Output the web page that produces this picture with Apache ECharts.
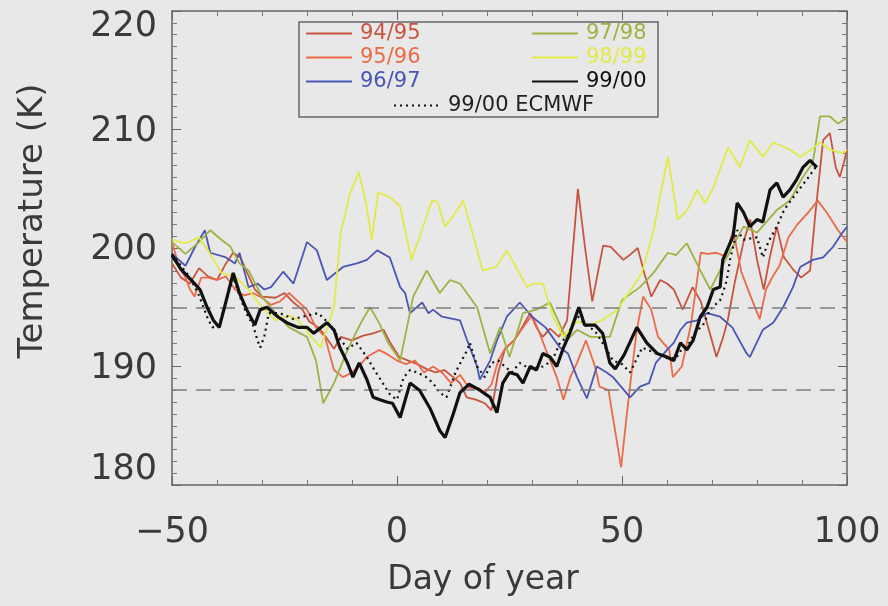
<!DOCTYPE html>
<html>
<head>
<meta charset="utf-8">
<script src="https://cdn.jsdelivr.net/npm/echarts@6/dist/echarts.min.js"></script>
<style>
html,body{margin:0;padding:0;background:#e8e8e8;}
#chart{width:888px;height:606px;}
</style>
</head>
<body>
<div id="chart"></div>
<script>
// ---- Data (day of year, temperature K) ----
const xTicks = [-50, 0, 50, 100];
const yTicks = [180, 190, 200, 210, 220];
const thresholds = [195, 188];

const days9495 = [-50,-48,-46,-44,-42,-40,-38,-36.4,-34.8,-33.3,-31.6,-30,-27,-25,-23,-21,-19.5,-17.5,-16,-14,-12.5,-10,-7.5,-5.3,-3,-1.5,0.5,2.5,4.5,6.5,8.5,10.5,12.5,14,15.5,17.5,19.5,21,22.5,24,26,27.5,29.6,31,32.4,34,36,37.8,40.2,41.8,43.4,45.8,47.5,49,50.3,52,53.5,55,56.5,58.5,60,61.5,63.5,65.7,67.5,69,71,72.5,73.5,75,77,78.5,80,81.5,83,84.4,86,88,89.8,91.8,93,94.7,96.2,97.5,98.4,99.3,100];
const temp9495 = [198.7,197.5,197,198.3,197.6,197.3,198.7,199.6,199.2,197.9,196.5,195.9,195.8,196.2,195.4,194.8,193.8,193.3,192.6,191.5,192.5,192.2,192.6,192.8,193.1,192,190.8,190.5,190.2,189.8,189.5,189.7,189.1,188.6,187.4,187.2,186.9,186.3,189.5,191.5,192.2,193.1,194.5,193.3,192.5,193.2,192.5,193.9,205,200,195.5,200.2,200.1,199.5,199,199.5,200,197.8,195.9,197.3,197,196.5,194.8,196.7,195.5,193.5,190.8,192.5,193.9,197,200.5,202.4,199,196.5,199.5,201.8,199.2,198.2,197.5,198.1,203,209.1,209.7,206.8,206,207.2,208.3];

const days9596 = [-50,-48.5,-47,-46,-45,-43.5,-42,-40,-38,-36,-34,-32,-30,-28,-26,-24,-22,-20,-18,-16,-14,-12,-10,-8,-6.7,-4,-2,0,2,4,6,8,10,12,14,16,18,19.5,21,22.5,24,26,28,30,31.5,33,35.5,37,38.5,40,42,44,45,47,48.2,49.8,51,52.2,53.3,54.7,56.5,58,60.5,61.3,63.3,65.3,66.7,67.5,69,71,73,74.7,76.5,78.5,80.6,82,83.5,85,87,89,91.4,93.5,95.5,98,100];
const temp9596 = [200.5,198.5,197.5,196.5,195.9,197.5,197.5,197.3,197.6,196.5,196,196.2,195.8,195.2,195.5,196.2,195.5,194.8,193.3,192.5,189.7,189.1,189.5,190.2,190.8,191.4,191,190.5,190.2,190.5,189.5,190,189.5,188.6,189.3,188.2,188.2,187.8,188.5,190.5,191.5,192.2,193.3,194.3,193,191.5,189.1,187.2,189.1,190.3,192.2,190,188.3,188,185.2,181.5,185.7,189.7,193.1,195.9,194.8,192.5,191.4,189.1,190,193.5,197.3,199.6,199.5,199.6,199.3,201.5,198,196,194,196.5,197.6,198.5,200.9,202,203,204,203,201.5,200.5];

const days9697 = [-50,-47,-45,-42.7,-41.5,-38,-36,-35,-33,-31,-29.5,-28,-25.3,-23,-20,-17.8,-15.6,-12,-8.9,-6.7,-4.4,-1.6,0.7,1.8,2.9,5.6,7,8,10,14,15.6,17.8,18.4,20.7,22.2,24.4,27.3,30,33,36.2,38,40,42.2,44.4,46.6,48,51.8,54,56,57.5,60,61.5,63,64.4,66.7,68.9,71.8,74.5,77.7,78.4,81.3,83.6,85.8,88,89.6,92.4,94.7,96.9,99,100];
const temp9697 = [199.5,198.5,200,201.5,199.6,199.2,198.7,199.6,196.7,197,196.5,196.7,198,197,200.5,199.8,197.3,198.4,198.7,199,199.8,199.2,196.7,196.2,194.5,195.4,194.5,194.8,194.2,193.9,192.2,190,188.9,190.5,192.2,194.2,195.4,194.2,193.3,191.6,191.1,189.1,187.3,190,189.5,189.1,187.4,188.3,188.6,190.3,191.4,192,193.1,193.7,193.9,194.5,194.2,193.3,191.1,190.8,193.1,193.7,195,196.7,198.4,199,199.2,200.1,201.3,201.8];

const days9798 = [-50,-47,-44,-41.5,-39,-37,-35,-33,-30,-27,-24,-20,-18,-16.4,-14,-11,-8,-6,-4,-2,0.7,3.6,6.6,9.5,11.8,14,17.8,20.7,22.9,25,28,31,34,37.8,40,43,47.3,50,54,57,60.2,62,64.4,67,69.6,73,77,80,84.4,87.3,90.2,92.4,94,96.2,98,100];
const temp9798 = [200.5,199.5,200.5,201.5,200.7,200.1,198.7,198.1,195.9,194.5,193.3,192.5,190.5,186.9,188.6,191.4,193.7,195,193.7,192,190.5,195.9,198.1,196.2,197.3,197,195,191.1,193.3,190.8,194.5,194.8,195.4,192.2,193.1,192.5,192.5,195.6,196.7,197.9,199.6,199.4,200.4,198.4,196.5,199,201.8,201.3,203.2,204,206,207.2,211.1,211.1,210.5,211];

const days9899 = [-50,-47,-44,-42,-39,-36,-33,-30,-27,-24,-22,-19,-17,-14,-12.5,-10.5,-8.5,-7,-5.6,-4.2,-1.6,0.7,3.2,5.5,7.8,9,10.7,13,14.7,17,19,22,24.4,27,28.9,30.2,32.4,34.7,36.9,40,43,46,49,52,54.4,57,60.2,62.4,64.5,66.7,68.5,70.3,73.6,76.2,78.4,81.3,83.6,87.3,89.6,92,94,96.2,99,100];
const temp9899 = [200.7,200.4,200.9,199.8,197.9,197.6,196.5,195,193.9,194.3,193.9,192.5,191.6,195,201.3,204.5,206.4,204,200.7,204.7,204.3,203.5,199,201.5,204,203.9,201.8,203,204,201,198.1,198.4,199.8,198,196.7,197,197,194.2,192.5,193.8,193.5,194,194.8,196.5,197.9,201.5,207.7,202.4,203.2,204.9,203.8,205.1,208.5,206.8,209.1,207.7,208.9,208.3,207.7,208.3,208.9,208.3,208,208.3];

const days9900 = [-50,-48,-46.5,-45,-43.8,-42.2,-40.8,-39.5,-38,-36.4,-35,-33.4,-31.6,-30.4,-28.9,-26.5,-24.5,-22,-20,-18.5,-15.6,-14,-12.7,-11,-9.8,-8.4,-6.7,-5.3,-3.8,-2.3,-1,0.7,2.9,5,7.3,9.5,10.7,12.5,14,16,18.4,20.7,22.2,23.5,25,26.7,28,29.6,31,32.4,34,35.5,37,38.5,40.4,41.7,44,45.7,47.3,48.5,50.5,53.3,55.5,57.8,60,61.5,63,64.4,65.8,67.4,68.9,70.3,71.8,72.4,74.7,75.6,77,78.4,80,81.3,82.9,84.4,85.8,87.3,88.7,90.2,91.8,93.3];
const temp9900 = [199.4,198.2,197.6,197,196.5,195,193.9,193.3,195.5,197.9,196.2,194.8,193.5,194.8,195,194.2,193.7,193.3,193.3,192.8,193.7,193.1,191.6,190.3,189.1,190.3,188.9,187.4,187.2,187,186.9,185.7,188.6,188,186.5,184.6,184,186,187.8,188.5,188,187.4,186.1,188.6,189.5,189.3,188.6,190,189.7,191.1,190.8,190,191.6,192.9,195,193.5,193.5,192.8,190.3,189.8,191,193.3,192,191.1,190.8,190.5,192,191.4,192.2,194.2,195,196.5,196.7,199,201,203.8,203,201.8,202.4,202.2,204.9,205.5,204.3,204.9,205.7,206.8,207.4,206.8];

const daysEcmwf = [-50,-48,-46,-44,-42,-41,-39.5,-38,-36.4,-35,-33.5,-32,-31,-30.4,-29.5,-28.5,-26,-23,-20,-17.5,-15.6,-13,-11,-9,-6.7,-5,-3,-1.5,0,1.5,2.9,4.5,6.5,8,9.5,11,13,15.6,16.2,17.8,19.5,21,22.5,24,25.5,27.3,29.5,32.4,34.5,36.2,37.8,40,42,44,46,48,50,51.8,54.5,57,60,62,63.5,65,66,68,69.6,71.8,72.4,73.3,74,75.6,77,80,81.3,82.5,84.4,86,87.5,89.5,91.5,93];
const tempEcmwf = [199.5,198.5,197.5,196,194,193.3,193.5,195.5,197.5,196,194.5,193.5,192.2,191.6,192.5,194.5,194.5,194,194.3,194.5,193.8,192.5,191.5,192,190.8,189.7,188.5,187.6,187.2,189.1,189.7,189.5,189.1,188.6,187.8,187.4,189.5,191.4,192,190,189.1,190.3,190.5,190,189.5,190.3,189.8,190,190.5,192,192.5,194.3,193.5,193,191.8,190.5,190.2,189.5,191.6,191.2,190.7,190.7,191.6,192,192.8,193.5,194.8,195.6,196.2,197.3,199,201.5,200.7,200.9,199.2,200.5,201.8,203.2,204,205,206,206.8];

const seriesNames = ['94/95','95/96','96/97','97/98','98/99','99/00','99/00 ECMWF'];
const seriesColors = ['#c85440','#ec6a48','#4a56b4','#9cb444','#e2ea48','#111111','#111111'];

function zip(d, t){ return d.map((v,i)=>[v, t[i]]); }
const allData = [
  zip(days9495, temp9495), zip(days9596, temp9596), zip(days9697, temp9697),
  zip(days9798, temp9798), zip(days9899, temp9899), zip(days9900, temp9900),
  zip(daysEcmwf, tempEcmwf)
];

const FONT = 'DejaVu Sans';
const TXT = '#3a3a3a';
const chart = echarts.init(document.getElementById('chart'), null, {renderer:'canvas'});

const series = allData.map((d, i) => {
  const isBlack = i === 5, isDot = i === 6;
  return {
    name: seriesNames[i], type: 'line', data: d, symbol: 'none', smooth: false,
    animation: false, z: isBlack ? 5 : (isDot ? 4 : 3),
    lineStyle: { color: seriesColors[i], width: isBlack ? 3.2 : (isDot ? 2.2 : 1.8), type: isDot ? [2, 4] : 'solid' },
    itemStyle: { color: seriesColors[i] }
  };
});
series[0].markLine = {
  silent: true, symbol: ['none','none'], animation: false,
  label: { show: false },
  lineStyle: { color: '#7d7d7d', width: 1.6, type: [15, 9] },
  data: thresholds.map(v => ({ yAxis: v }))
};

function legendItems(names){
  return names.map(n => ({ name: n, textStyle: { color: seriesColors[seriesNames.indexOf(n)] } }));
}
const legendCommon = {
  orient: 'vertical', itemWidth: 46, itemHeight: 14, itemGap: 3, padding: 0,
  selectedMode: false,
  itemStyle: { color: 'rgba(0,0,0,0)', borderColor: 'rgba(0,0,0,0)', borderWidth: 0, opacity: 0 },
  textStyle: { fontFamily: FONT, fontSize: 21, padding: [0,0,0,3] }
};

const labelRich = {
  t: { fontFamily: FONT, fontSize: 35, color: TXT, padding: [32,0,0,0] },
  m: { fontFamily: FONT, fontSize: 35, color: TXT, padding: [4,0,0,0] },
  b: { fontFamily: FONT, fontSize: 35, color: TXT, padding: [0,0,30,0] }
};

const option = {
  backgroundColor: '#e8e8e8',
  animation: false,
  grid: { left: 172, right: 41, top: 11, bottom: 121, outerBoundsMode: 'none', containLabel: false },
  legend: [
    Object.assign({}, legendCommon, { left: 305, top: 23, data: legendItems(['94/95','95/96','96/97']) }),
    Object.assign({}, legendCommon, { left: 531, top: 23, data: legendItems(['97/98','98/99','99/00']) }),
    Object.assign({}, legendCommon, { left: 393, top: 95, data: [{ name: '99/00 ECMWF', textStyle: { color: '#222' } }] })
  ],
  xAxis: [
    {
      type: 'value', min: -50, max: 100, interval: 50, position: 'bottom',
      axisLine: { show: true, onZero: false, lineStyle: { color: '#666', width: 1.5 } },
      axisTick: { show: true, inside: true, length: 9, lineStyle: { color: '#666' } },
      minorTick: { show: true, splitNumber: 5, length: 5, lineStyle: { color: '#777' } },
      splitLine: { show: false },
      axisLabel: {
        margin: 30, fontFamily: FONT, fontSize: 35, color: TXT,
        formatter: v => xTicks.includes(v) ? (v < 0 ? '\u2212' + Math.abs(v) : String(v)) : ''
      }
    },
    {
      type: 'value', min: -50, max: 100, interval: 50, position: 'top',
      axisLine: { show: true, onZero: false, lineStyle: { color: '#666', width: 1.5 } },
      axisTick: { show: true, inside: true, length: 9, lineStyle: { color: '#666' } },
      minorTick: { show: true, splitNumber: 5, length: 5, lineStyle: { color: '#777' } },
      splitLine: { show: false }, axisLabel: { show: false }
    }
  ],
  yAxis: [
    {
      type: 'value', min: 180, max: 220, interval: 10, position: 'left',
      axisLine: { show: true, onZero: false, lineStyle: { color: '#666', width: 1.5 } },
      axisTick: { show: true, inside: true, length: 9, lineStyle: { color: '#666' } },
      minorTick: { show: true, splitNumber: 10, length: 5, lineStyle: { color: '#777' } },
      splitLine: { show: false },
      axisLabel: {
        margin: 15, fontFamily: FONT, fontSize: 35, color: TXT, rich: labelRich,
        formatter: v => !yTicks.includes(v) ? '' :
          (v === 220 ? '{t|' + v + '}' : (v === 180 ? '{b|' + v + '}' : '{m|' + v + '}'))
      }
    },
    {
      type: 'value', min: 180, max: 220, interval: 10, position: 'right',
      axisLine: { show: true, onZero: false, lineStyle: { color: '#666', width: 1.5 } },
      axisTick: { show: true, inside: true, length: 9, lineStyle: { color: '#666' } },
      minorTick: { show: true, splitNumber: 10, length: 5, lineStyle: { color: '#777' } },
      splitLine: { show: false }, axisLabel: { show: false }
    }
  ],
  graphic: [
    {
      type: 'rect', shape: { x: 299, y: 22, width: 359, height: 95 },
      style: { fill: 'none', stroke: '#666', lineWidth: 1.5 }, z: 10, silent: true
    },
    {
      type: 'text', x: 33, y: 221, rotation: Math.PI / 2,
      style: { text: 'Temperature (K)', fontFamily: FONT, fontSize: 34, fill: TXT,
               align: 'center', verticalAlign: 'middle' }, silent: true
    },
    {
      type: 'text', x: 483, y: 580,
      style: { text: 'Day of year', fontFamily: FONT, fontSize: 33, fill: TXT,
               align: 'center', verticalAlign: 'middle' }, silent: true
    }
  ],
  series: series
};
chart.setOption(option);
</script>
</body>
</html>
